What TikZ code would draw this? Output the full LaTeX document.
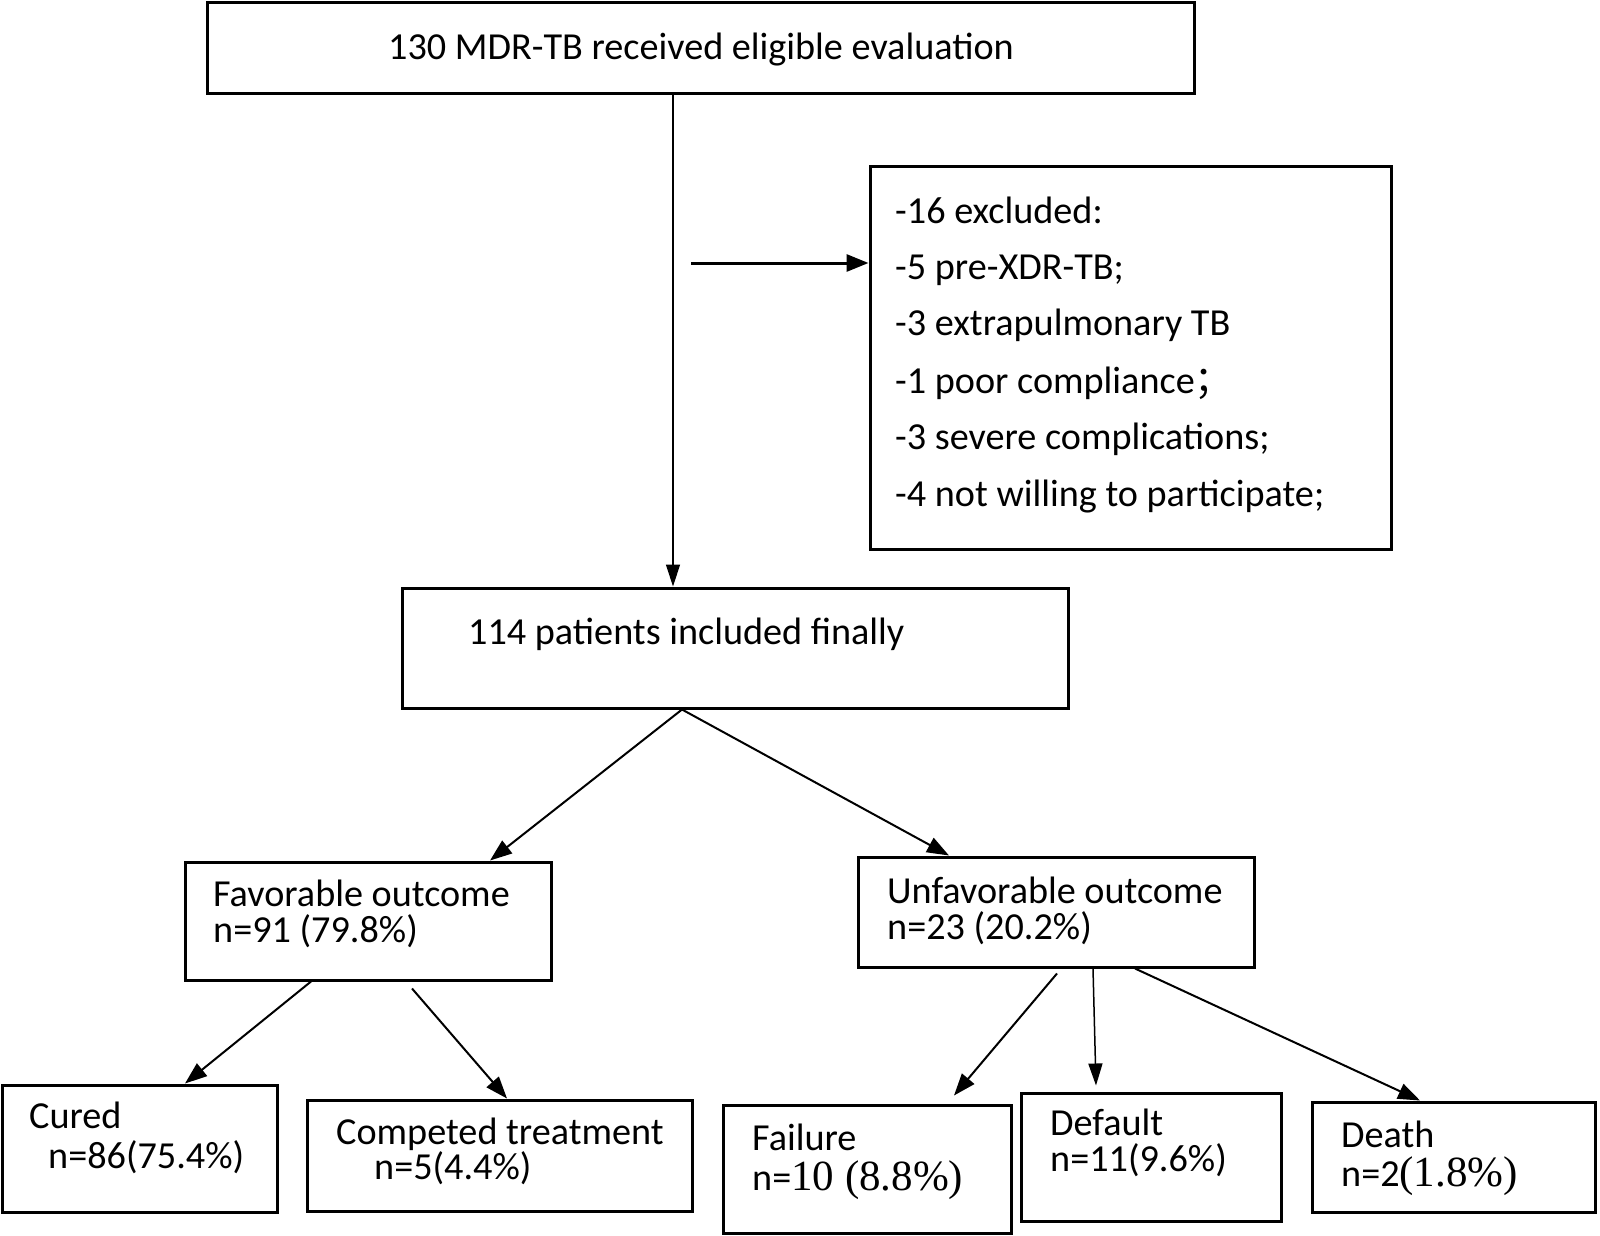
\documentclass[tikz,border=0pt]{standalone}
\usepackage{fontspec}
\setmainfont{Carlito}
\newfontfamily\tnr{Liberation Serif}
\newfontfamily\cjk{Noto Sans CJK SC}
\newcommand\tmsfont{\fontsize{43}{48}\selectfont\tnr}
\usetikzlibrary{arrows.meta}
\begin{document}
\begin{tikzpicture}[x=1pt,y=-1pt,
  box/.style={draw, line width=3pt, rectangle, inner sep=0pt},
  txt/.style={anchor=base west, inner sep=0pt, font=\fontsize{38.2}{45}\selectfont},
  arr/.style={line width=2pt, -{Triangle[length=22pt,width=16pt]}},
  vline/.style={line width=1.3pt, -{Triangle[length=22pt,width=14pt]}}
]
\useasboundingbox (0,0) rectangle (1600,1236);
% boxes
\node[box, minimum width=987pt, minimum height=91pt] (top) at (700.5,48.5) {};
\node[box, minimum width=521pt, minimum height=383pt] (excl) at (1130.5,357.5) {};
\node[box, minimum width=666pt, minimum height=120pt] (incl) at (735,648) {};
\node[box, minimum width=366pt, minimum height=118pt] (fav) at (368,921) {};
\node[box, minimum width=396pt, minimum height=110pt] (unfav) at (1056,912) {};
\node[box, minimum width=275pt, minimum height=127pt] (cured) at (139.5,1148.5) {};
\node[box, minimum width=385pt, minimum height=111pt] (comp) at (499.5,1155.5) {};
\node[box, minimum width=288pt, minimum height=128pt] (fail) at (867,1169) {};
\node[box, minimum width=260pt, minimum height=128pt] (def) at (1151,1157) {};
\node[box, minimum width=283pt, minimum height=110pt] (death) at (1453.5,1157) {};
% texts
\node[txt] (ttop) at (388,60) {130 MDR-TB received eligible evaluation};
\node[txt] (e1) at (895,223) {-16 excluded:};
\node[txt] (e2) at (895,279) {-5 pre-XDR-TB;};
\node[txt] (e3) at (895,335) {-3 extrapulmonary TB};
\node[txt] (e4) at (895,393) {-1 poor compliance{\cjk ；}};
\node[txt] (e5) at (895,449) {-3 severe complications;};
\node[txt] (e6) at (895,506) {-4 not willing to participate;};
\node[txt] (tincl) at (468,644) {114 patients included finally};
\node[txt] (tfav1) at (213,906) {Favorable outcome};
\node[txt] (tfav2) at (213,942) {n=91 (79.8\%)};
\node[txt] (tunf1) at (887,903) {Unfavorable outcome};
\node[txt] (tunf2) at (887,939) {n=23 (20.2\%)};
\node[txt] (tcur1) at (29,1128) {Cured};
\node[txt] (tcur2) at (48,1168) {n=86(75.4\%)};
\node[txt] (tcom1) at (336,1144) {Competed treatment};
\node[txt] (tcom2) at (374,1179) {n=5(4.4\%)};
\node[txt] (tfai1) at (752,1150) {Failure};
\node[txt] (tfai2) at (752,1190) {n={\tmsfont 10 (8.8\%)}};
\node[txt] (tdef1) at (1050,1135) {Default};
\node[txt] (tdef2) at (1050,1171) {n=11(9.6\%)};
\node[txt] (tdea1) at (1341,1147) {Death};
\node[txt] (tdea2) at (1341,1186) {n=2{\tmsfont (1.8\%)}};
% connectors
\draw[vline] ([xshift=-27.5pt]top.south) -- ([xshift=-62pt]incl.north);
\coordinate (side) at (691,263);
\draw[line width=3pt, -{Triangle[length=22pt,width=17pt]}] (side) -- (side -| excl.west);
\draw[arr] ([xshift=-53pt]incl.south) -- ([xshift=122pt]fav.north);
\draw[arr] ([xshift=-53pt]incl.south) -- ([xshift=-107pt]unfav.north);
\draw[arr] ([xshift=-57pt]fav.south) -- ([xshift=45.5pt]cured.north);
\draw[arr] ([xshift=44pt,yshift=-7pt]fav.south) -- ([xshift=7.5pt]comp.north);
\draw[arr] ([xshift=1pt,yshift=-5pt]unfav.south) -- ([xshift=87pt,yshift=8pt]fail.north);
\draw[vline,line width=1.5pt] ([xshift=37pt]unfav.south) -- ([xshift=-55pt,yshift=6pt]def.north);
\draw[arr] ([xshift=79pt]unfav.south) -- ([xshift=-33.5pt]death.north);
\end{tikzpicture}
\end{document}
